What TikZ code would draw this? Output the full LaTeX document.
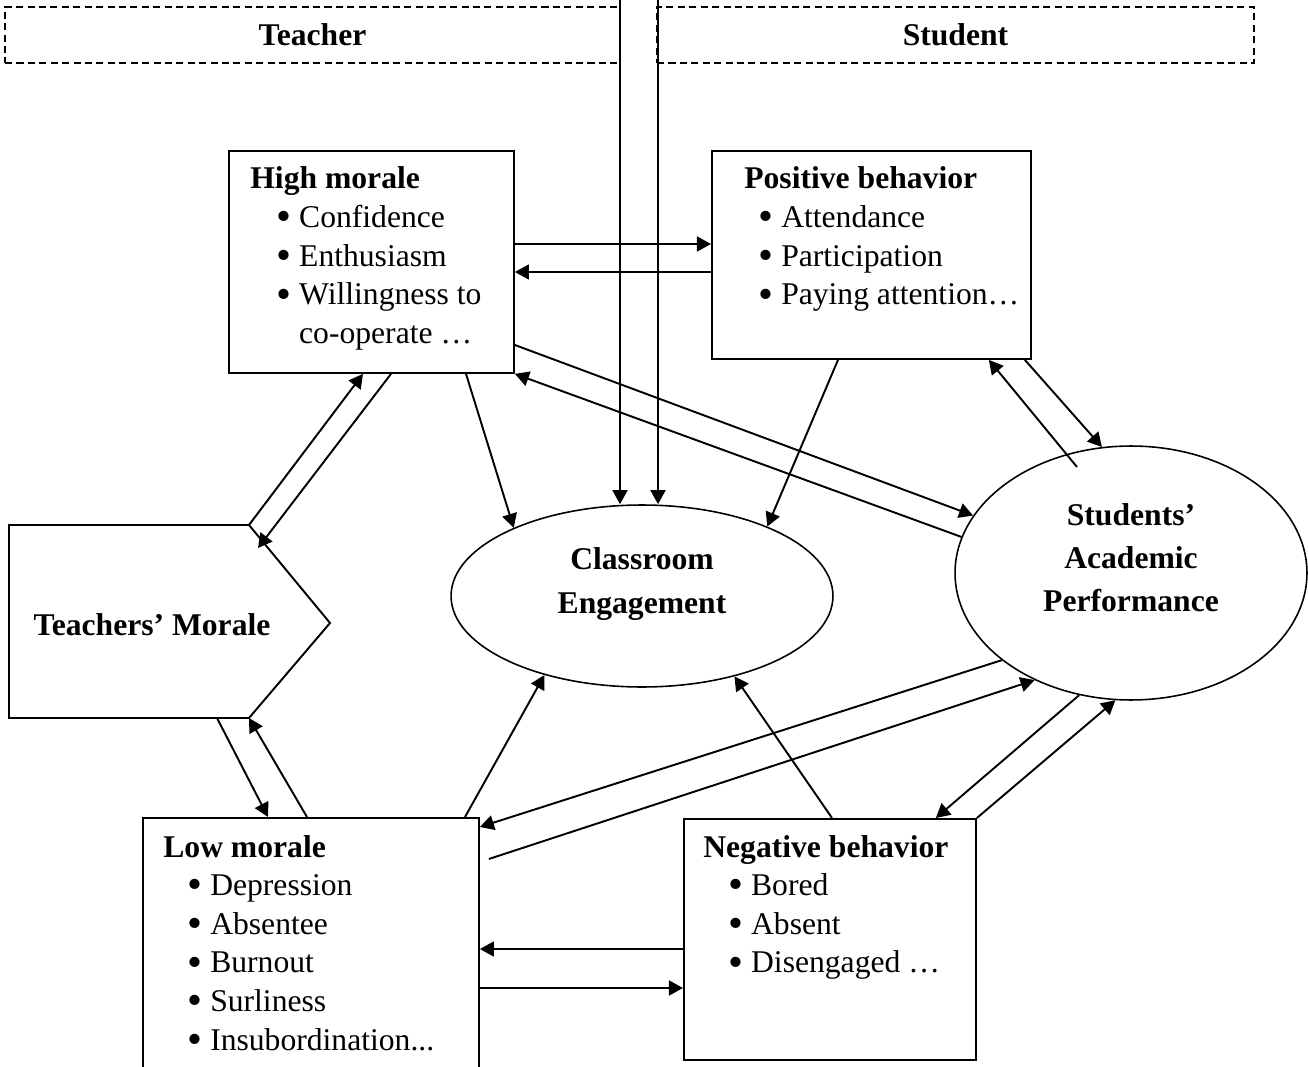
\documentclass[tikz,border=0pt]{standalone}
\usepackage{fontspec}
\usepackage{graphicx}
\setmainfont{Liberation Serif}
\usetikzlibrary{arrows.meta,positioning,calc,shapes.geometric}
\newcommand{\bul}[2]{\hspace*{#1}\makebox[13pt][l]{\raisebox{-0.1em}{\scalebox{1.35}{\textbullet}}}#2}
\newcommand{\bigbf}{\fontsize{18}{22}\selectfont\bfseries}
\tikzset{
  box/.style={draw, line width=1.1pt, rectangle, inner sep=0pt, anchor=north west},
  lst/.style={anchor=base west, inner sep=0pt},
  oval/.style={draw, line width=0.9pt, ellipse, inner sep=0pt},
  ovaltxt/.style={inner sep=0pt, align=center, font=\bfseries\fontsize{18}{24.5}\selectfont},
  part/.style={draw, dash pattern=on 4pt off 2.5pt, line width=0.9pt, inner sep=0pt, font=\bigbf},
  link/.style={-{Triangle[length=8pt,width=8.5pt]}, line width=1.1pt},
}
\begin{document}
\begin{tikzpicture}[x=0.02cm,y=-0.02cm,font=\fontsize{18}{22}\selectfont]
  \useasboundingbox (0,0) rectangle (1308,1067);
  \clip (0,0) rectangle (1308,1067);
  % header
  \node[part,minimum width=12.3cm,minimum height=1.12cm](tch) at (312.5,35){Teacher};
  \node[part,minimum width=11.94cm,minimum height=1.12cm](stu) at (955.5,35){Student};
  \coordinate (in1) at (620,0);
  \coordinate (in2) at (658,0);
  % teachers' morale
  \coordinate (tm-nw) at (9,525);
  \coordinate (tm-ne) at (249,525);
  \coordinate (tm-tip) at (330,623);
  \coordinate (tm-se) at (249,718);
  \coordinate (tm-sw) at (9,718);
  \draw[line width=1.1pt] (tm-nw) -- (tm-ne) -- (tm-tip) -- (tm-se) -- (tm-sw) -- cycle;
  \node[font=\bigbf](tm) at (152,625){Teachers’ Morale};
  % high morale
  \node[box,minimum width=5.7cm,minimum height=4.44cm](hm) at (228,150){};
  \node[lst](hm-txt) at ($(hm.north west)+(22,39)$){\parbox[t]{6cm}{\textbf{High morale}\\
    \bul{14.8pt}{Confidence}\\
    \bul{14.8pt}{Enthusiasm}\\
    \bul{14.8pt}{Willingness to}\\
    \hspace*{27.8pt}co-operate …}};
  % positive behavior
  \node[box,minimum width=6.38cm,minimum height=4.16cm](pb) at (711,150){};
  \node[lst](pb-txt) at ($(pb.north west)+(33,39)$){\parbox[t]{6cm}{\textbf{Positive behavior}\\
    \bul{8pt}{Attendance}\\
    \bul{8pt}{Participation}\\
    \bul{8pt}{Paying attention…}}};
  % low morale
  \node[box,minimum width=6.72cm,minimum height=5.6cm](lm) at (142,817){};
  \node[lst](lm-txt) at ($(lm.north west)+(21,40)$){\parbox[t]{6cm}{\textbf{Low morale}\\
    \bul{13.7pt}{Depression}\\
    \bul{13.7pt}{Absentee}\\
    \bul{13.7pt}{Burnout}\\
    \bul{13.7pt}{Surliness}\\
    \bul{13.7pt}{Insubordination...}}};
  % negative behavior
  \node[box,minimum width=5.84cm,minimum height=4.82cm](nb) at (683,818){};
  \node[lst](nb-txt) at ($(nb.north west)+(20,39)$){\parbox[t]{6cm}{\textbf{Negative behavior}\\
    \bul{14.2pt}{Bored}\\
    \bul{14.2pt}{Absent}\\
    \bul{14.2pt}{Disengaged …}}};
  % ovals
  \node[oval,minimum width=7.64cm,minimum height=3.64cm](ce) at (642,596){};
  \node[ovaltxt](ce-txt) at (642,584){Classroom\\Engagement};
  \node[oval,minimum width=7.04cm,minimum height=5.08cm](sap) at (1131,573){};
  \node[ovaltxt](sap-txt) at (1131,558){Students’\\Academic\\Performance};
  % links
  \draw[link] (in1) -- (in1 |- ce.north);
  \draw[link] (in2) -- (in2 |- ce.north);
  \draw[link] (tm-ne) -- ($(hm.south west)+(135,0)$);
  \draw[link] ($(hm.south west)+(163,0)$) -- ($(tm-ne)+(9,23)$);
  \draw[link] ($(tm-se)+(-32,0)$) -- ($(lm.north west)+(126,0)$);
  \draw[link] ($(lm.north west)+(165,0)$) -- (tm-se);
  \draw[link] ($(hm.north east)+(0,94)$) -- ($(pb.north west)+(0,94)$);
  \draw[link] ($(pb.north west)+(0,122)$) -- ($(hm.north east)+(0,122)$);
  \draw[link] ($(hm.south west)+(238,0)$) -- (ce.152.3);
  \draw[link] ($(pb.south west)+(127,0)$) -- (ce.29.1);
  \draw[link] ($(hm.north east)+(0,195)$) -- (sap.160.1);
  \draw[link] (sap.168) -- (hm.south east);
  \draw[link] ($(pb.south east)+(-7,0)$) -- (sap.103.7);
  \draw[link] ($(sap.center)+(-54,-106)$) -- ($(pb.south east)+(-43,0)$);
  \draw[link] ($(lm.north west)+(323,0)$) -- (ce.219.9);
  \draw[link] ($(nb.north west)+(149,0)$) -- (ce.319.6);
  \draw[link] (sap.214.5) -- ($(lm.north east)+(0,10)$);
  \draw[link] ($(lm.north east)+(9,42)$) -- (sap.228.7);
  \draw[link] (sap.247) -- ($(nb.north east)+(-41,0)$);
  \draw[link] (nb.north east) -- (sap.263.8);
  \draw[link] ($(nb.north west)+(0,131)$) -- ($(lm.north east)+(0,132)$);
  \draw[link] ($(lm.north east)+(0,171)$) -- ($(nb.north west)+(0,170)$);
\end{tikzpicture}
\end{document}
